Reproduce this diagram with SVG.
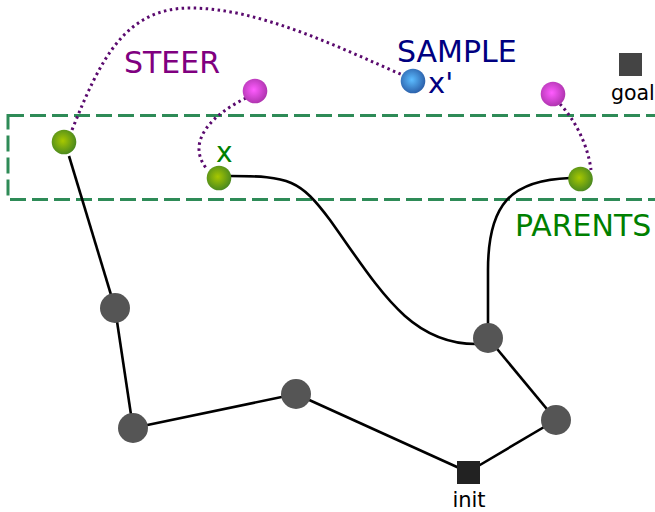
<svg xmlns="http://www.w3.org/2000/svg" width="655" height="512" viewBox="0 0 655 512">
  <defs>
    <radialGradient id="gGreen" cx="0.45" cy="0.45" r="0.55">
      <stop offset="0" stop-color="#a8c800"/>
      <stop offset="1" stop-color="#4c8a1e"/>
    </radialGradient>
    <radialGradient id="gMagenta" cx="0.45" cy="0.45" r="0.55">
      <stop offset="0" stop-color="#ff5cff"/>
      <stop offset="1" stop-color="#b035b0"/>
    </radialGradient>
    <radialGradient id="gBlue" cx="0.45" cy="0.45" r="0.55">
      <stop offset="0" stop-color="#5cbcff"/>
      <stop offset="1" stop-color="#2c62ac"/>
    </radialGradient>
    <style>
      .edge { fill: none; stroke: #000; stroke-width: 2.6; }
      .steer { fill: none; stroke: #5a0a6e; stroke-width: 3; stroke-dasharray: 2.5 3.5; }
      .region { fill: none; stroke: #2e8b57; stroke-width: 3; stroke-dasharray: 16 6; }
      .tree { fill: #555; }
      .lbl { font-family: "DejaVu Sans", sans-serif; }
    </style>
  </defs>

  <!-- neighbourhood band -->
  <rect class="region" x="8" y="115.5" width="660" height="84"/>

  <g id="connectors">
    <line class="edge" x1="69" y1="156" x2="115" y2="308"/>
    <line class="edge" x1="115" y1="308" x2="133" y2="428"/>
    <line class="edge" x1="133" y1="428" x2="296" y2="394"/>
    <line class="edge" x1="296" y1="394" x2="468" y2="472"/>
    <line class="edge" x1="468" y1="472" x2="556" y2="420"/>
    <line class="edge" x1="556" y1="420" x2="488" y2="338"/>
    <path class="edge" d="M230,176 C290,176 300,180 330,220 C380,290 410,345 478,344"/>
    <path class="edge" d="M488,325 L488,270 C488,205 510,180 570,178"/>
    <path class="steer" d="M72,130 C100,60 125,8 190,8 C260,8 340,48 405,76"/>
    <path class="steer" d="M246,98 C215,113 185,140 206,168"/>
    <path class="steer" d="M560,104 C575,120 588,145 591,170"/>
  </g>

  <g id="n-tree1"><circle class="tree" cx="115" cy="308" r="15"/></g>
  <g id="n-tree2"><circle class="tree" cx="133" cy="428" r="15"/></g>
  <g id="n-tree3"><circle class="tree" cx="296" cy="394" r="15"/></g>
  <g id="n-tree4"><circle class="tree" cx="488" cy="338" r="15"/></g>
  <g id="n-tree5"><circle class="tree" cx="556" cy="420" r="15"/></g>

  <g id="n-init">
    <rect x="457" y="461" width="23" height="23" fill="#222"/>
    <text class="lbl" x="469" y="507" font-size="21" text-anchor="middle" fill="#000">init</text>
  </g>
  <g id="n-goal">
    <rect x="619" y="53" width="23" height="23" fill="#444"/>
    <text class="lbl" x="611" y="100" font-size="20.5" fill="#000">goal</text>
  </g>

  <g id="n-parent1"><circle cx="64" cy="142" r="12.3" fill="url(#gGreen)"/></g>
  <g id="n-x">
    <circle cx="219" cy="178" r="12.3" fill="url(#gGreen)"/>
    <text class="lbl" x="216" y="162" font-size="28" fill="#008000">x</text>
  </g>
  <g id="n-parent3"><circle cx="580.5" cy="179" r="12.3" fill="url(#gGreen)"/></g>

  <g id="n-steer1"><circle cx="255" cy="91" r="12.3" fill="url(#gMagenta)"/></g>
  <g id="n-steer2"><circle cx="553" cy="94" r="12.3" fill="url(#gMagenta)"/></g>

  <g id="n-sample">
    <circle cx="413" cy="81" r="12.3" fill="url(#gBlue)"/>
    <text class="lbl" x="428" y="93" font-size="29" fill="#000080">x'</text>
  </g>

  <text class="lbl" x="124" y="73" font-size="30" fill="#800080">STEER</text>
  <text class="lbl" x="397" y="62" font-size="30" fill="#000080">SAMPLE</text>
  <text class="lbl" x="515" y="236" font-size="30" fill="#008000">PARENTS</text>
</svg>
